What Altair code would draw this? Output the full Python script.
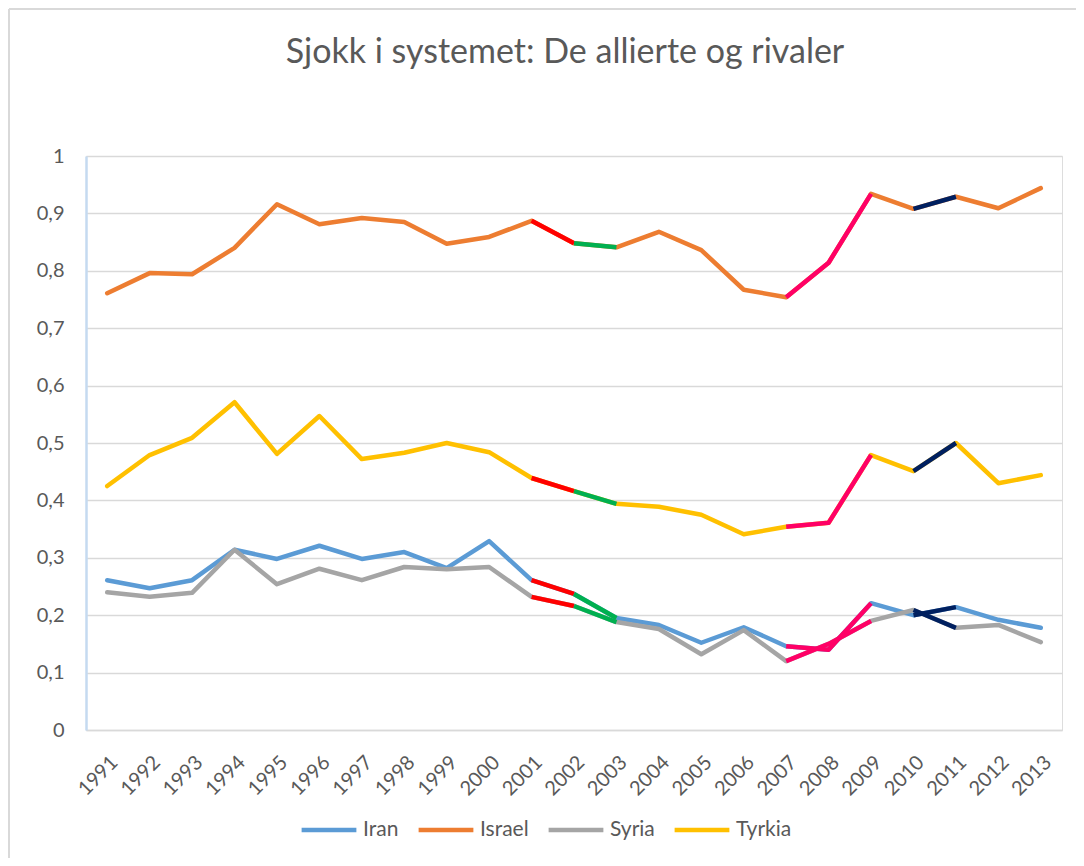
import altair as alt
import pandas as pd

years = list(range(1991, 2014))
series_names = ["Iran", "Israel", "Syria", "Tyrkia"]
series_colors = ["#5B9BD5", "#ED7D31", "#A5A5A5", "#FFC000"]

iran = [0.261, 0.247, 0.261, 0.314, 0.298, 0.321, 0.298, 0.310, 0.282, 0.329,
        0.261, 0.237, 0.195, 0.183, 0.152, 0.179, 0.146, 0.140, 0.221, 0.200,
        0.214, 0.192, 0.178]
israel = [0.761, 0.796, 0.794, 0.840, 0.916, 0.881, 0.892, 0.885, 0.847, 0.859,
          0.887, 0.848, 0.841, 0.868, 0.836, 0.767, 0.754, 0.814, 0.934, 0.908,
          0.929, 0.909, 0.944]
syria = [0.240, 0.232, 0.239, 0.314, 0.254, 0.281, 0.261, 0.284, 0.280, 0.284,
         0.232, 0.216, 0.188, 0.176, 0.132, 0.174, 0.120, 0.150, 0.190, 0.209,
         0.178, 0.183, 0.153]
tyrkia = [0.425, 0.479, 0.509, 0.571, 0.481, 0.547, 0.472, 0.483, 0.500, 0.484,
          0.439, 0.416, 0.394, 0.389, 0.375, 0.341, 0.354, 0.361, 0.479, 0.451,
          0.500, 0.430, 0.444]

# highlighted periods: (start year, end year, colour)
hl_start = [2001, 2002, 2007, 2010]
hl_end = [2002, 2003, 2009, 2011]
hl_color = ["#FF0000", "#00B050", "#FF0066", "#002060"]

values = {"Iran": iran, "Israel": israel, "Syria": syria, "Tyrkia": tyrkia}

rows = []
for s in series_names:
    for y, v in zip(years, values[s]):
        rows.append({"year": y, "value": v, "series": s})
base_df = pd.DataFrame(rows)

hl_rows = []
for s in series_names:
    for i, (a, b, c) in enumerate(zip(hl_start, hl_end, hl_color)):
        for y, v in zip(years, values[s]):
            if a <= y <= b:
                hl_rows.append({"year": y, "value": v, "series": s,
                                "seg": f"{s}-{i}", "hl": c})
hl_df = pd.DataFrame(hl_rows)

FONT = "Lato"
GREY = "#595959"

x_enc = alt.X("year:O", scale=alt.Scale(type="point", padding=0.5),
              axis=alt.Axis(title=None, labelAngle=-45, labelFontSize=20,
                            labelColor=GREY, labelFont=FONT, ticks=False,
                            domainColor="#D9D9D9", domainWidth=1.5,
                            labelPadding=22, grid=False))
y_enc = alt.Y("value:Q", scale=alt.Scale(domain=[0, 1], nice=False),
              axis=alt.Axis(title=None, values=[i / 10 for i in range(11)],
                            labelExpr="datum.value < 0.001 ? '0' : datum.value > 0.999 ? '1' : replace(format(datum.value, '.1f'), '.', ',')",
                            labelFontSize=20, labelColor=GREY, labelFont=FONT,
                            ticks=False, labelPadding=22,
                            domainColor="#C5DAF0", domainWidth=2.5,
                            gridColor="#D9D9D9", gridWidth=1.5))

base = alt.Chart(base_df).mark_line(strokeWidth=4.5, strokeCap="round",
                                     strokeJoin="round").encode(
    x=x_enc,
    y=y_enc,
    color=alt.Color("series:N",
                    scale=alt.Scale(domain=series_names, range=series_colors),
                    legend=alt.Legend(title=None, orient="none",
                                      direction="horizontal",
                                      legendX=213, legendY=644,
                                      symbolType="stroke",
                                      symbolStrokeWidth=4.5,
                                      symbolSize=3000,
                                      labelFontSize=21, labelColor=GREY,
                                      labelFont=FONT, labelOffset=4,
                                      columnPadding=10, symbolOpacity=1)),
)

hl = alt.Chart(hl_df).mark_line(strokeWidth=4.5, strokeCap="butt",
                                strokeJoin="round").encode(
    x=x_enc,
    y=y_enc,
    color=alt.Color("hl:N", scale=None),
    detail="seg:N",
)

# chart-area frame (top and left edges visible in the reference)
frame_df = pd.DataFrame({"k": [0]})
frame_top = alt.Chart(frame_df).mark_rule(color="#D9D9D9", strokeWidth=2).encode(
    x=alt.value(-77), x2=alt.value(1000), y=alt.value(-147))
frame_left = alt.Chart(frame_df).mark_rule(color="#D9D9D9", strokeWidth=2).encode(
    x=alt.value(-77), y=alt.value(-147), y2=alt.value(720))

chart = alt.layer(frame_top, frame_left, base, hl).properties(
    width=976,
    height=574,
    autosize=alt.AutoSizeParams(type="none"),
    padding={"left": 78, "top": 148, "right": 14, "bottom": 128},
    title=alt.TitleParams("Sjokk i systemet: De allierte og rivaler",
                          font=FONT, fontSize=34, fontWeight="normal",
                          color=GREY, anchor="middle", offset=-62, dx=-9),
).configure_view(stroke=None).configure(background="white")

chart.save("out.html", embed_options={"renderer": "svg", "actions": False})
